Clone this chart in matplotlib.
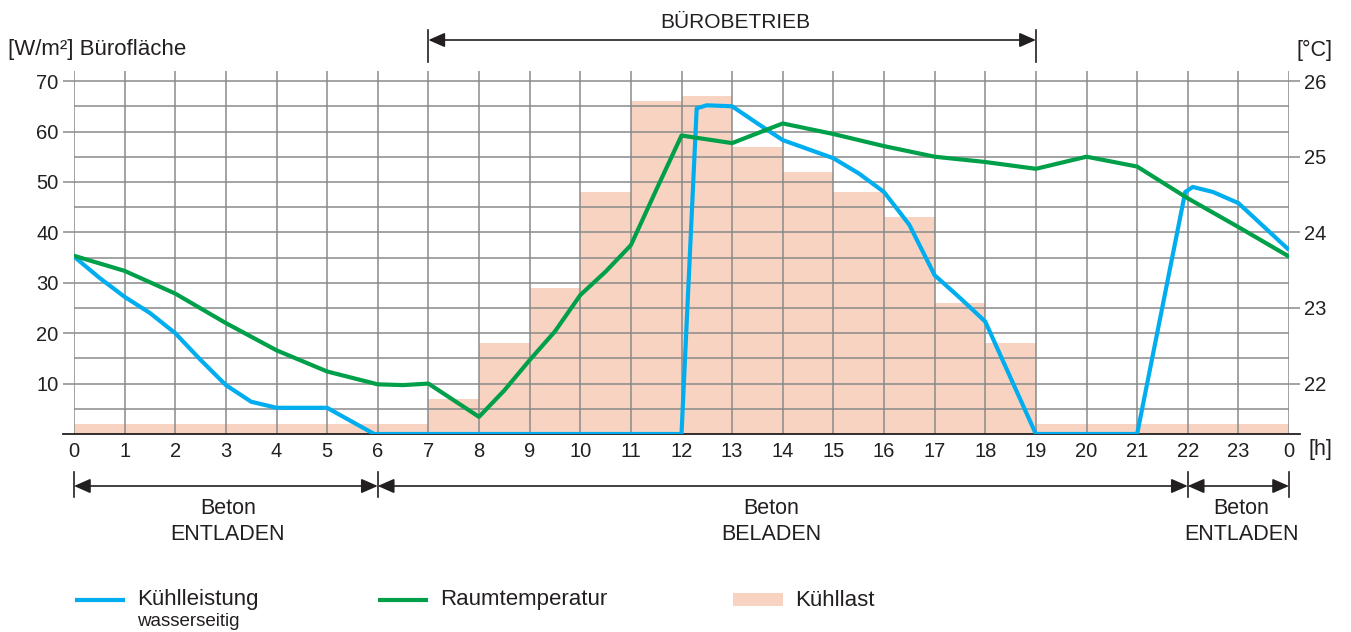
import matplotlib
matplotlib.use("Agg")
import matplotlib.pyplot as plt
from matplotlib.lines import Line2D
from matplotlib.patches import Rectangle
from matplotlib.transforms import blended_transform_factory

plt.rcParams["font.family"] = ["Liberation Sans", "DejaVu Sans"]

# ---- data -------------------------------------------------------------
hours = list(range(24))
hour_labels = [str(h) for h in range(24)] + ["0"]

# Kühllast per hour [W/m²]
kuehllast = [2, 2, 2, 2, 2, 2, 2, 7, 18, 29, 48, 66, 67, 57, 52, 48, 43, 26, 18,
             2, 2, 2, 2, 2]

# Kühlleistung wasserseitig [W/m²]
kl_time = [0, 0.5, 1, 1.5, 2, 2.5, 3, 3.5, 4, 5, 5.5, 5.93, 12.0, 12.3, 12.5,
           13, 13.5, 14, 15, 15.5, 16, 16.5, 17, 17.5, 18, 19, 21, 21.95, 22.1,
           22.5, 23, 24]
kl_value = [35.2, 31, 27.2, 24, 20, 14.7, 9.7, 6.4, 5.2, 5.2, 2.4, 0, 0, 64.6,
            65.2, 65, 61.6, 58.3, 54.7, 51.7, 48.0, 41.5, 31.5, 27, 22.3, 0, 0,
            48, 49, 48, 45.8, 36.5]

# Raumtemperatur [°C]
rt_time = [0, 1, 2, 3, 4, 5, 6, 6.5, 7, 7.5, 8, 8.5, 9, 9.5, 10, 10.5, 11, 11.5,
           12, 13, 14, 15, 16, 17, 18, 19, 20, 21, 22, 23, 24]
rt_value = [23.69, 23.49, 23.19, 22.80, 22.44, 22.16, 21.99, 21.98, 22.0, 21.78,
            21.56, 21.91, 22.31, 22.69, 23.17, 23.48, 23.83, 24.56, 25.28, 25.18,
            25.44, 25.30, 25.14, 25.0, 24.93, 24.84, 25.0, 24.87, 24.45, 24.07,
            23.68]

left_ticks = [10, 20, 30, 40, 50, 60, 70]
right_ticks = [22, 23, 24, 25, 26]

# ---- style ------------------------------------------------------------
BLUE = "#00aeef"
GREEN = "#00a04a"
PEACH = "#f9d3c1"
GRID = "#8a8a8a"
INK = "#231f20"
FS = 14.5      # tick labels
FS_T = 15.5    # captions and labels

W, H = 1351, 632
fig = plt.figure(figsize=(W / 100, H / 100), dpi=100)


def fx(px):
    return px / W


def fy(py):
    return 1 - py / H


X0, X1, YTOP, YBOT = 74, 1289, 71, 434
ax = fig.add_axes([fx(X0), fy(YBOT), (X1 - X0) / W, (YBOT - YTOP) / H])
ax.set_xlim(0, 24)
ax.set_ylim(0, 72)

# Kühllast bars
ax.bar(hours, kuehllast, width=1.0, align="edge", color=PEACH, lw=0, zorder=1)

# grid
for v in range(5, 75, 5):
    ax.axhline(v, color=GRID, lw=1.1, zorder=2)
for h in range(25):
    ax.axvline(h, color=GRID, lw=1.1, zorder=2)
ax.plot([-0.22, 24.22], [0, 0], color=INK, lw=1.3, clip_on=False, zorder=4)

for s in ax.spines.values():
    s.set_visible(False)

ax.set_yticks(left_ticks)
ax.set_yticklabels([str(v) for v in left_ticks])
ax.tick_params(axis="y", direction="out", length=8, width=1.1, color=GRID,
               labelsize=FS, labelcolor=INK, pad=3)
ax.set_xticks(range(25))
ax.set_xticklabels(hour_labels)
ax.tick_params(axis="x", length=0, labelsize=FS, labelcolor=INK, pad=6)

# Kühlleistung line
ax.plot(kl_time, kl_value, color=BLUE, lw=3.0, solid_joinstyle="round",
        solid_capstyle="butt", zorder=5)

# temperature axis
ax2 = ax.twinx()
ax2.set_ylim(22 - 10 / 15, 22 + 62 / 15)
for s in ax2.spines.values():
    s.set_visible(False)
ax2.set_yticks(right_ticks)
ax2.set_yticklabels([str(v) for v in right_ticks])
ax2.tick_params(axis="y", direction="out", length=8, width=1.1, color=GRID,
                labelsize=FS, labelcolor=INK, pad=3)
ax2.plot(rt_time, rt_value, color=GREEN, lw=3.0, solid_joinstyle="round",
         zorder=6)

# axis captions
fig.text(fx(8), fy(50), "[W/m²] Bürofläche", fontsize=FS_T + 0.5, color=INK,
         ha="left", va="center")
fig.text(fx(1297), fy(50), "[°C]", fontsize=FS_T, color=INK, ha="left",
         va="center")
fig.text(fx(1308), fy(449), "[h]", fontsize=FS_T, color=INK, ha="left",
         va="center")

# dimension arrows
tr = blended_transform_factory(ax.transData, fig.transFigure)


def dim_arrow(h0, h1, ypx):
    ax.annotate("", xy=(h1, fy(ypx)), xytext=(h0, fy(ypx)), xycoords=tr,
                textcoords=tr, annotation_clip=False,
                arrowprops=dict(arrowstyle="<|-|>,head_length=0.5,head_width=0.22",
                                mutation_scale=20, color=INK, lw=1.2,
                                shrinkA=0, shrinkB=0))


def dim_tick(h, y0px, y1px):
    fig.add_artist(Line2D([h, h], [fy(y0px), fy(y1px)], transform=tr,
                          color=INK, lw=1.2))


dim_arrow(7, 19, 40)
for h in (7, 19):
    dim_tick(h, 30, 62)
fig.text(fx(735), fy(22), "BÜROBETRIEB", fontsize=FS_T - 0.5, color=INK,
         ha="center", va="center")

for h0, h1 in ((0, 6), (6, 22), (22, 24)):
    dim_arrow(h0, h1, 486)
for h in (0, 6, 22, 24):
    dim_tick(h, 472, 497)

for xc, word in ((228, "ENTLADEN"), (771, "BELADEN"), (1241, "ENTLADEN")):
    fig.text(fx(xc), fy(509), "Beton", fontsize=FS_T, color=INK, ha="center",
             va="center")
    fig.text(fx(xc), fy(534), word, fontsize=FS_T, color=INK, ha="center",
             va="center")

# legend
fig.add_artist(Line2D([fx(75), fx(125)], [fy(600), fy(600)], color=BLUE,
                      lw=3.0, solid_capstyle="butt"))
fig.text(fx(137), fy(600), "Kühlleistung", fontsize=FS_T + 0.5, color=INK,
         ha="left", va="center")
fig.text(fx(137), fy(621), "wasserseitig", fontsize=FS_T - 2, color=INK,
         ha="left", va="center")
fig.add_artist(Line2D([fx(378), fx(428)], [fy(600), fy(600)], color=GREEN,
                      lw=3.0, solid_capstyle="butt"))
fig.text(fx(440), fy(600), "Raumtemperatur", fontsize=FS_T + 0.5, color=INK,
         ha="left", va="center")
fig.add_artist(Rectangle((fx(733), fy(606)), fx(50), 13 / H, color=PEACH,
                         lw=0))
fig.text(fx(795), fy(600), "Kühllast", fontsize=FS_T + 0.5, color=INK,
         ha="left", va="center")

fig.savefig("out.png", dpi=100)
